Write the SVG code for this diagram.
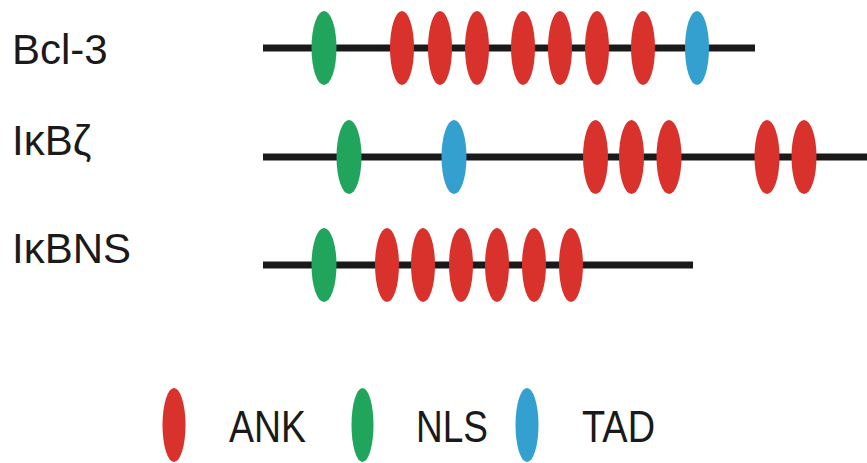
<svg xmlns="http://www.w3.org/2000/svg" width="867" height="463" viewBox="0 0 867 463">
<defs>
<style>
.bb{stroke:#1a1a1a;stroke-width:7;stroke-linecap:butt}
.ank{fill:#d9312c}
.nls{fill:#21a55c}
.tad{fill:#33a0d0}
.lbl{font-family:"Liberation Sans",Arial,sans-serif;font-size:42px;fill:#1a1a1a}
.leg{font-family:"Liberation Sans",Arial,sans-serif;font-size:44px;fill:#1a1a1a}
</style>
</defs>
<rect width="867" height="463" fill="#ffffff"/>
<g id="bcl3">
<text class="lbl" x="12" y="64">Bcl-3</text>
<line class="bb" x1="263" y1="48" x2="755" y2="48"/>
<ellipse class="nls" cx="324" cy="48" rx="12.5" ry="37"/>
<ellipse class="ank" cx="402" cy="48" rx="12" ry="37"/>
<ellipse class="ank" cx="440" cy="48" rx="12" ry="37"/>
<ellipse class="ank" cx="477" cy="48" rx="12" ry="37"/>
<ellipse class="ank" cx="523" cy="48" rx="12" ry="37"/>
<ellipse class="ank" cx="560" cy="48" rx="12" ry="37"/>
<ellipse class="ank" cx="597" cy="48" rx="12" ry="37"/>
<ellipse class="ank" cx="643" cy="48" rx="12" ry="37"/>
<ellipse class="tad" cx="697" cy="48" rx="12" ry="37"/>
</g>
<g id="ikbz">
<text class="lbl" x="12" y="155">IκBζ</text>
<line class="bb" x1="263" y1="157" x2="867" y2="157"/>
<ellipse class="nls" cx="349" cy="157" rx="12.5" ry="37"/>
<ellipse class="tad" cx="454" cy="157" rx="12.5" ry="37"/>
<ellipse class="ank" cx="595.5" cy="157" rx="12.5" ry="37"/>
<ellipse class="ank" cx="631.5" cy="157" rx="12.5" ry="37"/>
<ellipse class="ank" cx="669" cy="157" rx="12.5" ry="37"/>
<ellipse class="ank" cx="767" cy="157" rx="12.5" ry="37"/>
<ellipse class="ank" cx="804" cy="157" rx="12.5" ry="37"/>
</g>
<g id="ikbns">
<text class="lbl" x="12" y="263">IκBNS</text>
<line class="bb" x1="263" y1="265" x2="693" y2="265"/>
<ellipse class="nls" cx="324" cy="265" rx="12.5" ry="37"/>
<ellipse class="ank" cx="387" cy="265" rx="12" ry="37"/>
<ellipse class="ank" cx="423" cy="265" rx="12" ry="37"/>
<ellipse class="ank" cx="461" cy="265" rx="12" ry="37"/>
<ellipse class="ank" cx="497" cy="265" rx="12" ry="37"/>
<ellipse class="ank" cx="534" cy="265" rx="12" ry="37"/>
<ellipse class="ank" cx="571" cy="265" rx="12" ry="37"/>
</g>
<g id="legend">
<g id="legend-ank">
<ellipse class="ank" cx="174" cy="425" rx="11.5" ry="37"/>
<text class="leg" x="229" y="442" textLength="77" lengthAdjust="spacingAndGlyphs">ANK</text>
</g>
<g id="legend-nls">
<ellipse class="nls" cx="362.5" cy="425" rx="11" ry="37"/>
<text class="leg" x="416" y="442" textLength="72" lengthAdjust="spacingAndGlyphs">NLS</text>
</g>
<g id="legend-tad">
<ellipse class="tad" cx="527" cy="425" rx="11.5" ry="37"/>
<text class="leg" x="582" y="442" textLength="73" lengthAdjust="spacingAndGlyphs">TAD</text>
</g>
</g>
<g id="connectors"/>
</svg>
